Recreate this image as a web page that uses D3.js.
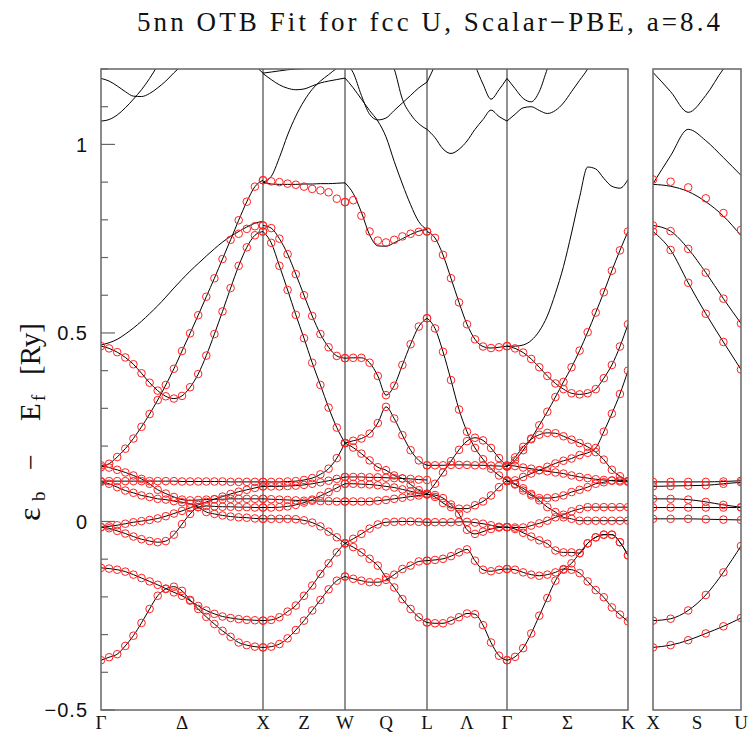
<!DOCTYPE html>
<html>
<head>
<meta charset="utf-8">
<script src="https://cdn.jsdelivr.net/npm/d3@7"></script>
<style>
  body { margin: 0; background: #fff; }
  svg { display: block; }
</style>
</head>
<body>
<div id="chart"></div>
<script>
/* BAND DATA (Ry), one value per k-point of each path segment */

// Gamma -> X (21 points)
const gxBands = [
  [-0.368,-0.360,-0.352,-0.330,-0.303,-0.269,-0.232,-0.197,-0.179,-0.173,-0.184,-0.208,-0.232,-0.253,-0.272,-0.290,-0.306,-0.321,-0.328,-0.332,-0.334],
  [-0.123,-0.125,-0.128,-0.133,-0.141,-0.150,-0.159,-0.168,-0.178,-0.188,-0.197,-0.210,-0.224,-0.236,-0.245,-0.252,-0.256,-0.259,-0.261,-0.262,-0.263],
  [-0.015,-0.018,-0.025,-0.032,-0.040,-0.047,-0.052,-0.055,-0.052,-0.035,-0.007,0.020,0.038,0.041,0.040,0.039,0.039,0.038,0.038,0.037,0.037],
  [-0.015,-0.013,-0.010,-0.006,-0.002,0.001,0.004,0.008,0.014,0.021,0.028,0.036,0.044,0.052,0.059,0.066,0.073,0.079,0.084,0.089,0.093],
  [0.105,0.100,0.091,0.082,0.076,0.069,0.065,0.060,0.058,0.054,0.051,0.047,0.038,0.025,0.020,0.016,0.013,0.011,0.010,0.008,0.007],
  [0.107,0.107,0.107,0.107,0.107,0.107,0.107,0.107,0.107,0.107,0.106,0.106,0.106,0.106,0.106,0.106,0.105,0.105,0.105,0.105,0.105],
  [0.149,0.143,0.137,0.130,0.122,0.113,0.100,0.084,0.074,0.065,0.058,0.056,0.057,0.058,0.059,0.059,0.060,0.060,0.060,0.060,0.060],
  [0.144,0.153,0.171,0.193,0.220,0.251,0.285,0.322,0.362,0.405,0.452,0.499,0.547,0.596,0.645,0.696,0.747,0.799,0.848,0.888,0.905],
  [0.465,0.459,0.449,0.435,0.417,0.393,0.368,0.347,0.332,0.326,0.333,0.356,0.391,0.440,0.497,0.557,0.619,0.678,0.727,0.759,0.769]
];
const gxLines = [
  [0.468,0.474,0.483,0.497,0.513,0.531,0.551,0.572,0.595,0.619,0.642,0.664,0.684,0.704,0.723,0.741,0.756,0.769,0.781,0.791,0.796],
  [1.175,1.168,1.155,1.140,1.128,1.127,1.135,1.150,1.168,1.190,1.210,1.235,1.250,1.260,1.265,1.265,1.260,1.250,1.235,1.210,1.189],
  [1.062,1.066,1.078,1.097,1.120,1.145,1.175,1.210,1.250,null,null,null,null,null,null,null,null,null,null,null,null]
];
const gxDots = [
  [null,null,null,null,null,null,null,null,null,null,null,null,null,null,null,null,null,0.763,0.776,0.783,0.785]
];

// X -> W (11 points)
const xwBands = [
  [0.769,0.739,0.678,0.614,0.548,0.486,0.421,0.362,0.302,0.249,0.208],
  [0.785,0.778,0.750,0.709,0.656,0.600,0.545,0.497,0.462,0.439,0.433],
  [0.105,0.105,0.105,0.106,0.107,0.110,0.115,0.125,0.140,0.168,0.208],
  [0.093,0.093,0.093,0.094,0.095,0.097,0.100,0.104,0.108,0.113,0.118],
  [0.037,0.037,0.038,0.040,0.044,0.050,0.058,0.068,0.078,0.089,0.100],
  [0.060,0.059,0.058,0.057,0.056,0.055,0.055,0.054,0.054,0.053,0.053],
  [0.007,0.007,0.007,0.007,0.006,0.003,-0.003,-0.013,-0.027,-0.042,-0.058],
  [-0.263,-0.261,-0.254,-0.239,-0.223,-0.197,-0.170,-0.139,-0.111,-0.082,-0.058],
  [-0.334,-0.332,-0.325,-0.310,-0.288,-0.263,-0.236,-0.208,-0.180,-0.157,-0.146]
];
const xwLines = [
  [0.900,0.895,0.894,0.894,0.894,0.895,0.895,0.896,0.896,0.897,0.898],
  [0.900,0.915,0.965,1.025,1.075,1.115,1.146,1.168,1.185,1.202,1.215],
  [1.189,1.192,1.195,1.198,1.200,1.201,1.202,1.204,1.206,1.208,1.210],
  [1.188,1.172,1.158,1.149,1.145,1.147,1.155,1.163,1.168,1.172,1.176]
];
const xwDots = [
  [0.905,0.902,0.900,0.896,0.893,0.888,0.882,0.878,0.873,0.856,0.847]
];

// W -> L (11 points)
const wlBands = [
  [0.433,0.434,0.434,0.421,0.386,0.335,0.360,0.415,0.470,0.517,0.539],
  [0.208,0.214,0.220,0.233,0.261,0.304,0.273,0.229,0.189,0.162,0.149],
  [0.208,0.196,0.180,0.162,0.144,0.136,0.122,0.114,0.098,0.083,0.074],
  [0.118,0.118,0.118,0.117,0.117,0.116,0.115,0.114,0.113,0.111,0.110],
  [0.100,0.100,0.099,0.098,0.096,0.093,0.090,0.085,0.080,0.075,0.072],
  [0.053,0.053,0.053,0.053,0.055,0.057,0.060,0.063,0.066,0.069,0.072],
  [-0.058,-0.046,-0.033,-0.019,-0.008,-0.002,-0.001,0.000,0.000,-0.001,-0.002],
  [-0.058,-0.068,-0.082,-0.099,-0.117,-0.148,-0.175,-0.206,-0.232,-0.254,-0.268],
  [-0.146,-0.152,-0.157,-0.161,-0.161,-0.155,-0.141,-0.126,-0.117,-0.106,-0.104]
];
const wlLines = [
  [0.898,0.870,0.820,0.760,0.731,0.730,0.739,0.750,0.761,0.770,0.774],
  [1.176,1.150,1.120,1.090,1.062,1.020,0.955,0.895,0.840,0.795,0.774],
  [1.215,1.190,1.130,1.080,1.065,1.070,1.090,1.110,1.130,1.150,1.165],
  [null,null,null,null,null,1.240,1.200,1.120,1.080,1.055,1.040]
];
const wlDots = [
  [0.847,0.852,0.811,0.769,0.745,0.740,0.747,0.756,0.763,0.768,0.769]
];

// L -> Gamma (11 points)
const lgBands = [
  [0.769,0.752,0.707,0.645,0.581,0.523,0.483,0.464,0.460,0.462,0.465],
  [0.539,0.512,0.450,0.375,0.297,0.238,0.195,0.165,0.140,0.122,0.109],
  [0.072,0.100,0.130,0.160,0.190,0.213,0.222,0.215,0.195,0.168,0.146],
  [0.149,0.149,0.149,0.150,0.150,0.150,0.149,0.149,0.148,0.147,0.146],
  [0.072,0.065,0.049,0.038,0.034,0.034,0.043,0.053,0.069,0.091,0.109],
  [0.072,0.070,0.062,0.045,0.020,-0.022,-0.033,-0.027,-0.020,-0.016,-0.015],
  [-0.002,-0.002,-0.002,-0.002,-0.001,-0.001,-0.003,-0.006,-0.010,-0.014,-0.015],
  [-0.104,-0.102,-0.099,-0.092,-0.082,-0.074,-0.104,-0.128,-0.132,-0.128,-0.126],
  [-0.268,-0.270,-0.270,-0.263,-0.254,-0.244,-0.246,-0.275,-0.321,-0.356,-0.368]
];
const lgLines = [
  [1.040,1.018,0.988,0.976,0.987,1.009,1.040,1.066,1.091,1.074,1.062],
  [null,null,null,null,null,null,1.210,1.160,1.120,1.145,1.175],
  [1.165,1.210,1.260,null,null,null,null,null,null,null,null]
];

// Gamma -> K (16 points)
const gkBands = [
  [0.146,0.162,0.189,0.220,0.255,0.291,0.330,0.370,0.409,0.453,0.502,0.554,0.608,0.665,0.719,0.769],
  [0.465,0.459,0.448,0.431,0.409,0.386,0.366,0.351,0.340,0.337,0.340,0.351,0.380,0.415,0.464,0.523],
  [0.107,0.109,0.118,0.127,0.136,0.145,0.154,0.161,0.167,0.176,0.182,0.195,0.238,0.286,0.338,0.400],
  [0.146,0.170,0.198,0.218,0.230,0.235,0.234,0.226,0.217,0.208,0.198,0.184,0.164,0.137,0.120,0.107],
  [0.149,0.147,0.143,0.140,0.136,0.133,0.130,0.127,0.122,0.118,0.115,0.112,0.110,0.108,0.106,0.105],
  [0.107,0.100,0.082,0.069,0.062,0.062,0.064,0.069,0.078,0.084,0.091,0.100,0.104,0.109,0.109,0.107],
  [0.107,0.098,0.088,0.073,0.056,0.038,0.025,0.011,0.007,0.002,0.002,0.002,0.002,0.002,0.002,0.002],
  [-0.015,-0.016,-0.016,-0.011,-0.005,0.002,0.011,0.018,0.027,0.033,0.038,0.038,0.038,0.038,0.038,0.038],
  [-0.015,-0.020,-0.030,-0.040,-0.050,-0.059,-0.077,-0.082,-0.082,-0.084,-0.058,-0.042,-0.035,-0.035,-0.055,-0.090],
  [-0.368,-0.359,-0.336,-0.297,-0.250,-0.203,-0.157,-0.128,-0.111,-0.084,-0.058,-0.042,-0.035,-0.035,-0.055,-0.090],
  [-0.126,-0.128,-0.135,-0.141,-0.144,-0.141,-0.135,-0.126,-0.128,-0.137,-0.159,-0.182,-0.201,-0.228,-0.247,-0.265]
];
const gkLines = [
  [0.465,0.465,0.468,0.480,0.505,0.545,0.605,0.676,0.765,0.860,0.940,0.935,0.910,0.889,0.884,0.907],
  [1.062,1.080,1.097,1.100,1.090,1.082,1.090,1.110,1.140,1.170,1.200,1.240,null,null,null,null],
  [1.175,1.148,1.122,1.113,1.140,1.200,1.250,null,null,null,null,null,null,null,null,null]
];

// X -> S -> U, side panel (6 points)
const xuBands = [
  [0.785,0.770,0.723,0.660,0.591,0.525],
  [0.769,0.720,0.633,0.551,0.476,0.403],
  [0.105,0.105,0.105,0.105,0.106,0.108],
  [0.093,0.094,0.095,0.096,0.100,0.104],
  [0.060,0.060,0.058,0.052,0.044,0.038],
  [0.037,0.037,0.037,0.037,0.037,0.037],
  [0.007,0.007,0.007,0.006,0.005,0.004],
  [-0.263,-0.258,-0.236,-0.195,-0.135,-0.065],
  [-0.334,-0.328,-0.315,-0.297,-0.278,-0.256]
];
const xuLines = [
  [0.894,0.889,0.875,0.848,0.810,0.758],
  [0.896,0.970,1.040,1.010,0.965,0.918],
  [1.191,1.140,1.085,1.130,1.200,1.250]
];
const xuDots = [
  [0.907,0.901,0.886,0.857,0.818,0.773]
];

const yTicks = [-0.5, 0, 0.5, 1];
const mainLabels = [["Γ",0],["Δ",1],["X",2],["Z",2.5],["W",3],["Q",3.5],["L",4],["Λ",4.5],["Γ",5],["Σ",5.75],["K",6.5]];
const sideLabels = [["X",0],["S",0.5],["U",1]];
const symPoints = [2, 3, 4, 5];

/* SCALES */
const width = 749, height = 732;
const plotTop = 69, plotBottom = 710;

const y = d3.scaleLinear().domain([-0.5, 1.2]).range([plotBottom, plotTop]);
const xMain = d3.scaleLinear().domain([0, 2, 3, 4, 5, 6.5]).range([101, 263, 345, 427, 507, 628]);
const xSide = d3.scaleLinear().domain([0, 1]).range([653, 741]);

const segments = [
  { k0: 0, k1: 2,   x: xMain, clip: "clipMain", bands: gxBands, lines: gxLines, dots: gxDots },
  { k0: 2, k1: 3,   x: xMain, clip: "clipMain", bands: xwBands, lines: xwLines, dots: xwDots },
  { k0: 3, k1: 4,   x: xMain, clip: "clipMain", bands: wlBands, lines: wlLines, dots: wlDots },
  { k0: 4, k1: 5,   x: xMain, clip: "clipMain", bands: lgBands, lines: lgLines, dots: [] },
  { k0: 5, k1: 6.5, x: xMain, clip: "clipMain", bands: gkBands, lines: gkLines, dots: [] },
  { k0: 0, k1: 1,   x: xSide, clip: "clipSide", bands: xuBands, lines: xuLines, dots: xuDots }
];

const svg = d3.select("#chart").append("svg")
  .attr("width", width)
  .attr("height", height);

const defs = svg.append("defs");
defs.append("clipPath").attr("id", "clipMain").append("rect")
  .attr("x", xMain(0)).attr("y", plotTop).attr("width", xMain(6.5) - xMain(0)).attr("height", plotBottom - plotTop);
defs.append("clipPath").attr("id", "clipSide").append("rect")
  .attr("x", xSide(0)).attr("y", plotTop).attr("width", xSide(1) - xSide(0)).attr("height", plotBottom - plotTop);

// vertical lines at symmetry points
svg.selectAll(".sym")
  .data(symPoints)
  .join("line")
  .attr("x1", d => xMain(d)).attr("x2", d => xMain(d))
  .attr("y1", plotTop).attr("y2", plotBottom)
  .attr("stroke", "#222")
  .attr("stroke-width", 1);

const lineLayer = svg.append("g");
const dotLayer = svg.append("g");

segments.forEach(seg => {
  const toPts = arr => arr.map((v, i) => [seg.k0 + (seg.k1 - seg.k0) * i / (arr.length - 1), v]);
  const lineGen = d3.line()
    .defined(d => d[1] !== null)
    .x(d => seg.x(d[0]))
    .y(d => y(d[1]))
    .curve(d3.curveMonotoneX);

  lineLayer.append("g")
    .attr("clip-path", `url(#${seg.clip})`)
    .selectAll("path")
    .data(seg.bands.concat(seg.lines).map(toPts))
    .join("path")
    .attr("fill", "none")
    .attr("stroke", "#000")
    .attr("stroke-width", 1)
    .attr("d", lineGen);

  const pts = seg.bands.concat(seg.dots).flatMap(toPts).filter(d => d[1] !== null);
  dotLayer.append("g")
    .attr("clip-path", `url(#${seg.clip})`)
    .selectAll("circle")
    .data(pts)
    .join("circle")
    .attr("cx", d => seg.x(d[0]))
    .attr("cy", d => y(d[1]))
    .attr("r", 3.8)
    .attr("fill", "none")
    .attr("stroke", "#f22")
    .attr("stroke-width", 1);
});

// frames
[[xMain(0), xMain(6.5)], [xSide(0), xSide(1)]].forEach(([x0, x1]) => {
  svg.append("rect")
    .attr("x", x0).attr("y", plotTop)
    .attr("width", x1 - x0).attr("height", plotBottom - plotTop)
    .attr("fill", "none")
    .attr("stroke", "#666")
    .attr("stroke-width", 1.5);
});

// y ticks on the left axis (inside)
const minor = d3.range(-5, 13).map(i => i / 10);
svg.selectAll(".ytick")
  .data(minor)
  .join("line")
  .attr("x1", xMain(0))
  .attr("x2", d => xMain(0) + (Math.abs(d * 2 - Math.round(d * 2)) < 1e-6 ? 14 : 7))
  .attr("y1", d => y(d)).attr("y2", d => y(d))
  .attr("stroke", "#666")
  .attr("stroke-width", 1.2);

svg.selectAll(".ylab")
  .data(yTicks)
  .join("text")
  .attr("x", 88)
  .attr("y", d => y(d))
  .attr("dy", "0.36em")
  .attr("text-anchor", "end")
  .attr("font-family", "Liberation Sans, Arial, sans-serif")
  .attr("font-size", 20)
  .attr("letter-spacing", 1)
  .attr("fill", "#111")
  .text(d => d < 0 ? "\u2212" + Math.abs(d) : d);

// k-point labels
svg.selectAll(".klab")
  .data(mainLabels.map(d => [d[0], xMain(d[1])]).concat(sideLabels.map(d => [d[0], xSide(d[1])])))
  .join("text")
  .attr("x", d => d[1])
  .attr("y", 729)
  .attr("text-anchor", "middle")
  .attr("font-family", "Liberation Serif, Times New Roman, serif")
  .attr("font-size", 19)
  .attr("fill", "#111")
  .text(d => d[0]);

// title
svg.append("text")
  .attr("x", 137)
  .attr("y", 31)
  .attr("font-family", "Liberation Serif, Times New Roman, serif")
  .attr("font-size", 27)
  .attr("textLength", 583)
  .attr("lengthAdjust", "spacing")
  .attr("fill", "#111")
  .text("5nn OTB Fit for fcc U, Scalar\u2212PBE, a=8.4");

// y axis label: pieces placed along the rotated axis
const ylab = svg.append("g")
  .attr("transform", "translate(40,425) rotate(-90)")
  .attr("font-family", "Liberation Serif, Times New Roman, serif")
  .attr("fill", "#111");
const ylabParts = [
  { t: "\u03b5", x: -96, dy: 0, size: 32 },
  { t: "b", x: -76, dy: 5, size: 19 },
  { t: "\u2212", x: -45, dy: 0, size: 28 },
  { t: "E", x: 4, dy: 0, size: 29 },
  { t: "f", x: 24, dy: 5, size: 19 },
  { t: "[Ry]", x: 50, dy: 0, size: 29 }
];
ylab.selectAll("text")
  .data(ylabParts)
  .join("text")
  .attr("x", d => d.x)
  .attr("y", d => d.dy)
  .attr("font-size", d => d.size)
  .text(d => d.t);
</script>
</body>
</html>
